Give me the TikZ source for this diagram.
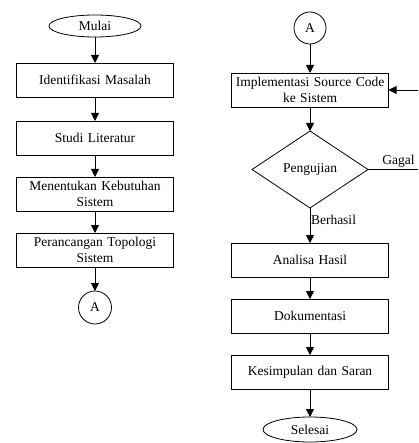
\documentclass[tikz,border=0pt]{standalone}
\usepackage{fontspec}
\setmainfont{Liberation Serif}
\usetikzlibrary{positioning, arrows.meta, shapes.geometric}

\begin{document}
\begin{tikzpicture}[x=1pt, y=-1pt,
  every node/.style={outer sep=0pt},
  process/.style={draw, rectangle, minimum width=157pt, minimum height=34pt,
                  text width=150pt, inner xsep=3.5pt, inner ysep=1pt, align=center,
                  line width=0.8pt, font=\fontsize{13.5}{16.5}\selectfont},
  terminal/.style={draw, ellipse, minimum width=92pt, minimum height=22pt,
                   inner sep=0pt, line width=0.8pt, font=\fontsize{13.5}{16.5}\selectfont},
  connector/.style={draw, circle, minimum size=33pt, inner sep=0pt,
                    line width=0.8pt, font=\fontsize{13.5}{16.5}\selectfont},
  decision/.style={draw, diamond, minimum width=116pt, minimum height=77pt,
                   inner sep=0pt, line width=0.8pt, font=\fontsize{13.5}{16.5}\selectfont},
  arr/.style={-{Triangle[length=8pt, width=8pt]}, line width=0.9pt},
  arrlbl/.style={font=\fontsize{13.5}{16.5}\selectfont, inner sep=1pt},
]

\path[use as bounding box, clip] (0,0) rectangle (418,443);

% Left column
\node[terminal] (mulai) at (95,26) {Mulai};
\node[process, below=26pt of mulai] (identifikasi) {Identifikasi Masalah};
\node[process, below=24pt of identifikasi] (studi) {Studi Literatur};
\node[process, below=22pt of studi] (kebutuhan) {Menentukan Kebutuhan\\Sistem};
\node[process, below=22pt of kebutuhan] (topologi) {Perancangan Topologi\\Sistem};
\node[connector, below=24pt of topologi] (conA) {A};

% Right column
\node[connector, minimum size=32pt] (conB) at (310,28) {A};
\node[process, below=29pt of conB] (implementasi) {Implementasi Source Code\\ke Sistem};
\node[decision, below=24pt of implementasi] (pengujian) {Pengujian};
\node[process, below=35pt of pengujian] (analisa) {Analisa Hasil};
\node[process, below=22pt of analisa] (dokumentasi) {Dokumentasi};
\node[process, below=22pt of dokumentasi] (kesimpulan) {Kesimpulan dan Saran};
\node[terminal, below=28pt of kesimpulan, minimum width=94pt, minimum height=25pt] (selesai) {Selesai};

\coordinate (balik) at ([xshift=51pt]pengujian.east);

% Arrows
\draw[arr] (mulai) -- (identifikasi);
\draw[arr] (identifikasi) -- (studi);
\draw[arr] (studi) -- (kebutuhan);
\draw[arr] (kebutuhan) -- (topologi);
\draw[arr] (topologi) -- (conA);

\draw[arr] (conB) -- (implementasi);
\draw[arr] (implementasi) -- (pengujian);
\draw[arr] (pengujian.south) -- node[arrlbl, right, pos=0.35] {Berhasil} (analisa.north);
\draw[arr] (pengujian.east) -- node[arrlbl, above, xshift=5pt, yshift=1pt] {Gagal} (balik) |- (implementasi.east);
\draw[arr] (analisa) -- (dokumentasi);
\draw[arr] (dokumentasi) -- (kesimpulan);
\draw[arr] (kesimpulan) -- (selesai);

\end{tikzpicture}
\end{document}
